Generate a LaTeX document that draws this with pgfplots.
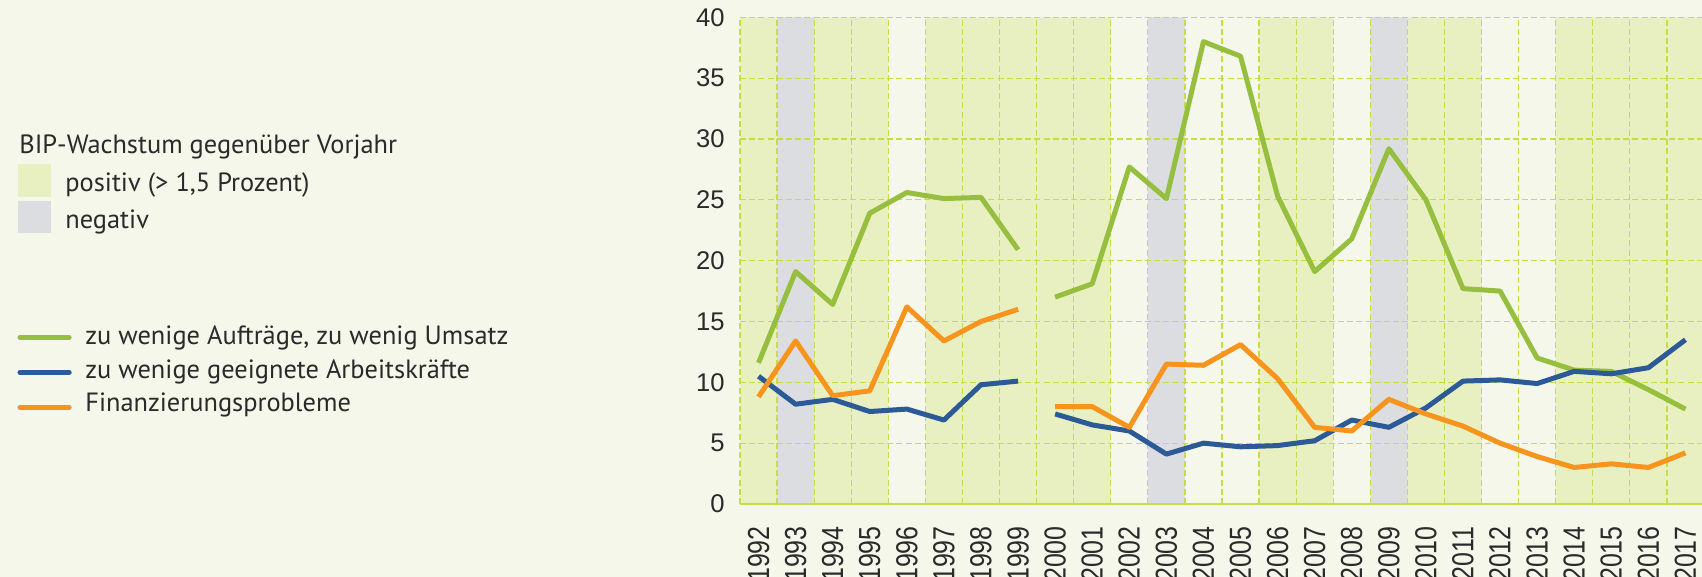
\documentclass[border=0pt]{standalone}
\usepackage{pgfplots}
\pgfplotsset{compat=1.18}
\usepackage{fontspec}
\setmainfont{PT Sans}
\newfontfamily\tickfont{Liberation Sans}
\newfontfamily\xtickfont[FakeStretch=0.82]{Liberation Sans}
\definecolor{bgc}{HTML}{F5F7EA}
\definecolor{posc}{HTML}{E8F0C2}
\definecolor{negc}{HTML}{DCDDE0}
\definecolor{gridc}{HTML}{C8DC48}
\definecolor{gline}{HTML}{96BF3F}
\definecolor{bline}{HTML}{2B5A97}
\definecolor{oline}{HTML}{F7941E}
\definecolor{txt}{HTML}{2A2A2A}
\pagecolor{bgc}
\begin{document}
\begin{tikzpicture}
\begin{axis}[
  at={(0,0)}, anchor=south west,
  set layers,
  scale only axis,
  width=482pt, height=243.35pt,
  xmin=1991.5, xmax=2017.5,
  ymin=0, ymax=40,
  axis line style={draw=none},
  xtick={1992,...,2017},
  minor xtick={1991.5,1992.5,...,2017.5},
  ytick={0,5,...,40},
  major tick length=0pt, minor tick length=0pt,
  xmajorgrids=false, xminorgrids=true, ymajorgrids=true,
  grid style={gridc, line width=0.6pt, dash pattern=on 3pt off 1.6pt},
  minor grid style={gridc, line width=0.6pt, dash pattern=on 3pt off 1.6pt},
  extra y ticks={0}, extra y tick labels={},
  extra y tick style={grid style={gridc, line width=0.7pt, solid}},
  /pgf/number format/1000 sep={},
  /pgf/number format/assume math mode=true,
  xticklabel style={rotate=90, anchor=east, inner sep=0pt, font=\xtickfont\fontsize{15.2}{16}\selectfont, text=txt},
  yticklabel style={inner sep=0pt, font=\tickfont\fontsize{12.8}{14}\selectfont, text=txt},
  xticklabel shift=11pt,
  yticklabel shift=7.5pt,
  unbounded coords=jump,
]
% background bands
\addplot[on layer=axis background, ybar interval, fill=posc, draw=none] coordinates {
(1991.5,40) (1992.5,0) (1993.5,40) (1994.5,40) (1995.5,0) (1996.5,40) (1997.5,40)
(1998.5,40) (1999.5,40) (2000.5,40) (2001.5,0) (2002.5,0) (2003.5,0) (2004.5,0)
(2005.5,40) (2006.5,40) (2007.5,0) (2008.5,0) (2009.5,40) (2010.5,40) (2011.5,0)
(2012.5,0) (2013.5,40) (2014.5,40) (2015.5,40) (2016.5,40) (2017.5,40)};
\addplot[on layer=axis background, ybar interval, fill=negc, draw=none] coordinates {
(1992.5,40) (1993.5,0) (2002.5,40) (2003.5,0) (2008.5,40) (2009.5,0)};
% zu wenige Auftraege
\addplot[gline, line width=2.5pt, line join=round] coordinates {
(1992,11.6) (1993,19.1) (1994,16.4) (1995,23.9) (1996,25.6) (1997,25.1) (1998,25.2) (1999,20.9)
(1999.5,nan)
(2000,17.0) (2001,18.1) (2002,27.7) (2003,25.1) (2004,38.0) (2005,36.8) (2006,25.3) (2007,19.1)
(2008,21.8) (2009,29.2) (2010,25.0) (2011,17.7) (2012,17.5) (2013,12.0) (2014,11.0) (2015,10.9)
(2016,9.4) (2017,7.8)};
% zu wenige geeignete Arbeitskraefte
\addplot[bline, line width=2.5pt, line join=round] coordinates {
(1992,10.5) (1993,8.2) (1994,8.6) (1995,7.6) (1996,7.8) (1997,6.9) (1998,9.8) (1999,10.1)
(1999.5,nan)
(2000,7.4) (2001,6.5) (2002,6.0) (2003,4.1) (2004,5.0) (2005,4.7) (2006,4.8) (2007,5.2)
(2008,6.9) (2009,6.3) (2010,7.9) (2011,10.1) (2012,10.2) (2013,9.9) (2014,10.9) (2015,10.7)
(2016,11.2) (2017,13.5)};
% Finanzierungsprobleme
\addplot[oline, line width=2.5pt, line join=round] coordinates {
(1992,8.8) (1993,13.4) (1994,8.9) (1995,9.3) (1996,16.2) (1997,13.4) (1998,15.0) (1999,16.0)
(1999.5,nan)
(2000,8.0) (2001,8.0) (2002,6.3) (2003,11.5) (2004,11.4) (2005,13.1) (2006,10.3) (2007,6.3)
(2008,6.0) (2009,8.6) (2010,7.4) (2011,6.4) (2012,5.0) (2013,3.9) (2014,3.0) (2015,3.3)
(2016,3.0) (2017,4.2)};
\end{axis}
% legend
\begin{scope}[every node/.style={inner sep=0pt, anchor=base west, text=txt, font=\fontsize{13.2}{15}\selectfont}]
\node at (-360.5pt,175.3pt) {BIP-Wachstum gegenüber Vorjahr};
\fill[posc] (-360.8pt,153.6pt) rectangle (-344.6pt,169.8pt);
\node at (-337.5pt,156.2pt) {positiv (> 1,5 Prozent)};
\fill[negc] (-360.8pt,135.3pt) rectangle (-344.6pt,151.5pt);
\node at (-337.5pt,137.8pt) {negativ};
\draw[gline, line width=2.5pt, line cap=round] (-360pt,83.2pt) -- (-335.4pt,83.2pt);
\draw[bline, line width=2.5pt, line cap=round] (-360pt,65.8pt) -- (-335.4pt,65.8pt);
\draw[oline, line width=2.5pt, line cap=round] (-360pt,48.3pt) -- (-335.4pt,48.3pt);
\node at (-327.5pt,79.8pt) {zu wenige Aufträge, zu wenig Umsatz};
\node at (-327.5pt,62.5pt) {zu wenige geeignete Arbeitskräfte};
\node at (-327.5pt,46.2pt) {Finanzierungsprobleme};
\end{scope}
\pgfresetboundingbox
\path[use as bounding box] (-370pt,-36.5pt) rectangle (481pt,252pt);
\end{tikzpicture}
\end{document}
